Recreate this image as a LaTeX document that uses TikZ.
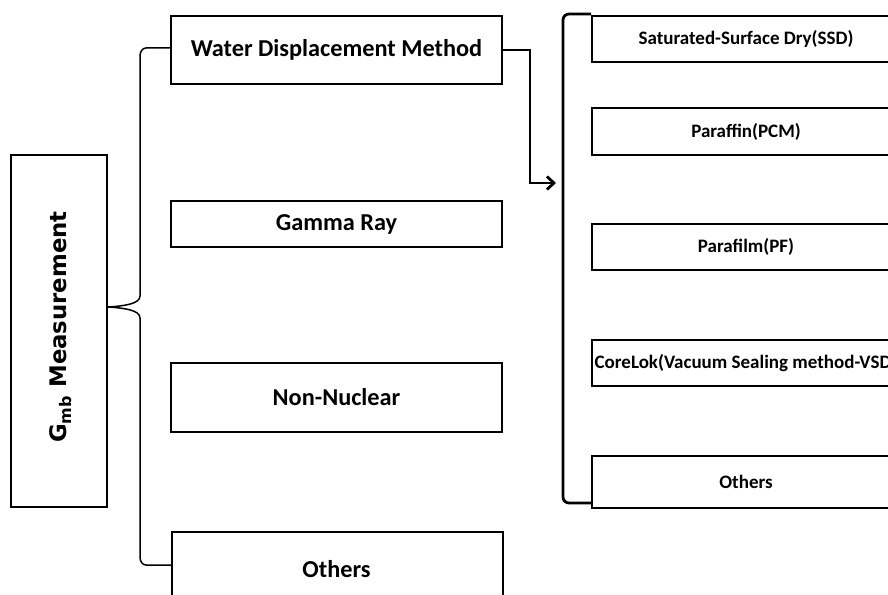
\documentclass[tikz,border=0pt]{standalone}
\usepackage{fontspec}
\setmainfont{Carlito}
\newfontfamily\gfont{DejaVu Sans}
\usetikzlibrary{arrows.meta}
\tikzset{
  box/.style={draw, line width=1.6pt, fill=white, inner sep=0pt, font=\bfseries\fontsize{24.3}{26}\selectfont},
  rbox/.style={draw, line width=1.6pt, fill=white, inner sep=0pt, minimum width=308, font=\bfseries\fontsize{19}{21}\selectfont},
  brace/.style={line width=1.5pt},
  thick line/.style={line width=2.8pt},
}
\begin{document}
\begin{tikzpicture}[x=1pt,y=-1pt]
\clip (0,0) rectangle (888,594);
\fill[white] (0,0) rectangle (888,594);
% left root
\node[box, minimum width=96, minimum height=352] (g) at (59,331) {};
\node[rotate=90, font=\gfont\bfseries\fontsize{22.8}{24}\selectfont] (gl) at (61,327) {G\textsubscript{mb} Measurement};
% left children
\node[box, minimum width=331, minimum height=68] (wdm) at (336.5,50) {Water Displacement Method};
\node[box, minimum width=331, minimum height=46] (gam) at (336.5,224) {Gamma Ray};
\node[box, minimum width=331, minimum height=69] (nn) at (336.5,397.5) {Non-Nuclear};
\node[box, minimum width=331, minimum height=90, anchor=north west] (oth) at (171,531) {};
\node[font=\bfseries\fontsize{24.3}{26}\selectfont] (othl) at (336.5,569) {Others};
% right children
\node[rbox, minimum height=46] (ssd) at (746,39) {Saturated-Surface Dry(SSD)};
\node[rbox, minimum height=47] (pcm) at (746,131.5) {Paraffin(PCM)};
\node[rbox, minimum height=46] (pf) at (746,247) {Parafilm(PF)};
\node[rbox, minimum height=46] (vsd) at (746,363) {CoreLok(Vacuum Sealing method-VSD)};
\node[rbox, minimum height=52] (ro) at (746,482) {Others};
% left brace
\coordinate (tip) at (g.east |- 0,307);
\draw[brace] (wdm.west |- 0,48) -- (146,48) to[out=180,in=90] (140,56) -- (140,296)
  .. controls (140,304) and (124,306) .. (tip)
  .. controls (124,308) and (140,310) .. (140,318) -- (140,557)
  to[out=-90,in=180] (146,565) -- (oth.west |- 0,565);
% right bracket
\draw[thick line, line join=round] (ssd.west |- 0,14) -- (569,14) to[out=180,in=90] (563,20) -- (563,497)
  to[out=-90,in=180] (569,503) -- (ro.west |- 0,503);
% arrow
\coordinate (arr) at (556,183);
\draw[thick line, -{Straight Barb[length=7pt,width=13pt]}] (wdm.east |- 0,50) -- (530,50) -- (530,183) -- (arr);
\end{tikzpicture}
\end{document}
